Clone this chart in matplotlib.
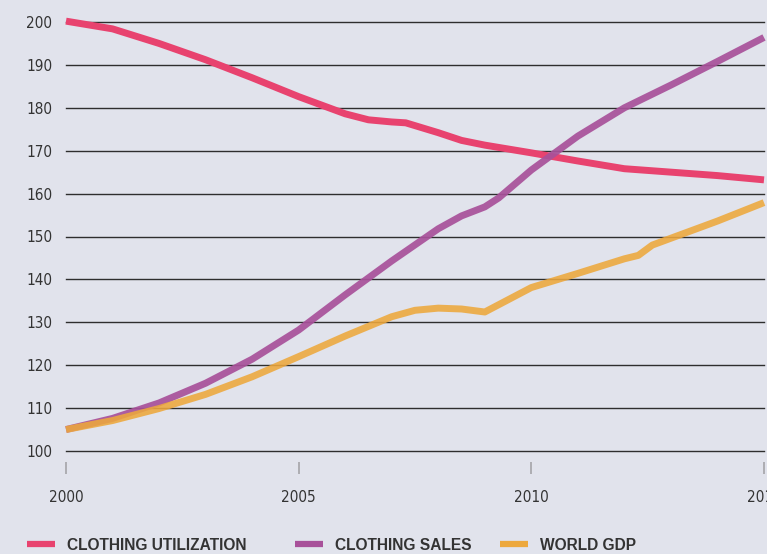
import matplotlib
matplotlib.use("Agg")
import matplotlib.pyplot as plt
from matplotlib.lines import Line2D
from matplotlib import font_manager as fm

# ---- data ----
years_util = [2000, 2001, 2002, 2003, 2004, 2005, 2006, 2006.5, 2007, 2007.3, 2008, 2008.5, 2009, 2010, 2011, 2012, 2013, 2014, 2015]
clothing_utilization = [200.2, 198.4, 195.0, 191.2, 187.0, 182.6, 178.6, 177.2, 176.7, 176.5, 174.2, 172.4, 171.3, 169.5, 167.6, 165.8, 165.0, 164.2, 163.2]

years_sales = [2000, 2001, 2002, 2003, 2004, 2005, 2006, 2007, 2008, 2008.5, 2009, 2009.3, 2010, 2011, 2012, 2013, 2014, 2015]
clothing_sales = [105.0, 107.6, 111.2, 115.8, 121.4, 128.2, 136.4, 144.3, 151.8, 154.8, 156.9, 159.0, 165.5, 173.4, 180.0, 185.3, 190.8, 196.4]

years_gdp = [2000, 2001, 2002, 2003, 2004, 2005, 2006, 2007, 2007.5, 2008, 2008.5, 2009, 2010, 2011, 2012, 2012.3, 2012.6, 2013, 2014, 2015]
world_gdp = [105.0, 107.1, 109.9, 113.2, 117.3, 122.0, 126.8, 131.3, 132.8, 133.3, 133.1, 132.4, 138.1, 141.4, 144.8, 145.6, 148.0, 149.6, 153.6, 157.9]

series_labels = ["CLOTHING UTILIZATION", "CLOTHING SALES", "WORLD GDP"]
x_ticks = [2000, 2005, 2010, 2015]
y_ticks = list(range(100, 201, 10))

# ---- narrow font lookup ----
def find_narrow():
    files = fm.findSystemFonts()
    prefs = ["LiberationSansNarrow-Regular", "DejaVuSansCondensed.ttf", "Condensed-Regular", "Narrow"]
    for p in prefs:
        for f in files:
            base = f.split("/")[-1]
            if p in base and "Bold" not in base and "Italic" not in base and "Oblique" not in base:
                return fm.FontProperties(fname=f, size=11)
    return fm.FontProperties(family="DejaVu Sans", size=10)

tick_fp = find_narrow()

# ---- style ----
BG = "#e1e3ec"
PINK = "#e8436f"
PURPLE = "#a8519a"
ORANGE = "#eda83c"
TXT = "#333333"

fig = plt.figure(figsize=(7.67, 5.54), dpi=100, facecolor=BG)
ax = fig.add_axes([66/767, 1-451/554, (764-66)/767, (451-22)/554])
ax.set_facecolor(BG)

kw = dict(lw=5, solid_capstyle="butt", solid_joinstyle="round", clip_on=False)
l1, = ax.plot(years_util, clothing_utilization, color=PINK, zorder=3, **kw)
l2, = ax.plot(years_sales, clothing_sales, color=PURPLE, alpha=0.92, zorder=4, **kw)
l3, = ax.plot(years_gdp, world_gdp, color=ORANGE, alpha=0.88, zorder=5, **kw)

ax.set_xlim(2000, 2015)
ax.set_ylim(100, 200)
ax.set_yticks(y_ticks)
ax.set_xticks(x_ticks)
ax.set_xticklabels([str(t) for t in x_ticks])
ax.set_yticklabels([str(t) for t in y_ticks])

for yv in y_ticks:
    ax.axhline(yv, color="#2e2e2e", lw=1.0, zorder=1, clip_on=False)

for s in ["top", "right", "left"]:
    ax.spines[s].set_visible(False)
ax.spines["bottom"].set_position(("outward", 8))
ax.spines["bottom"].set_visible(False)

ax.tick_params(axis="y", length=0, pad=28.8, labelcolor=TXT)
for lab in ax.get_yticklabels():
    lab.set_horizontalalignment("left")
    lab.set_fontproperties(tick_fp)
ax.tick_params(axis="x", direction="out", length=8.6, width=1.3, color="#a9a9ad",
               pad=11.5, labelcolor=TXT)
for lab in ax.get_xticklabels():
    lab.set_fontproperties(tick_fp)

# legend: one entry per legend box, placed like the reference
colors = [PINK, PURPLE, ORANGE]
leg_x = [27, 295, 500]
for c, lab, xp in zip(colors, series_labels, leg_x):
    h = Line2D([], [], color=c, lw=4.5, solid_capstyle="butt")
    leg = fig.legend([h], [lab], loc="center left", bbox_to_anchor=(xp/767, 1-545/554),
                     frameon=False, handlelength=1.8, handletextpad=0.75,
                     prop={"family": "Liberation Sans", "weight": "bold", "size": 11.2},
                     borderaxespad=0, borderpad=0)
    for t in leg.get_texts():
        t.set_color(TXT)

fig.savefig("out.png", dpi=100, facecolor=BG)
